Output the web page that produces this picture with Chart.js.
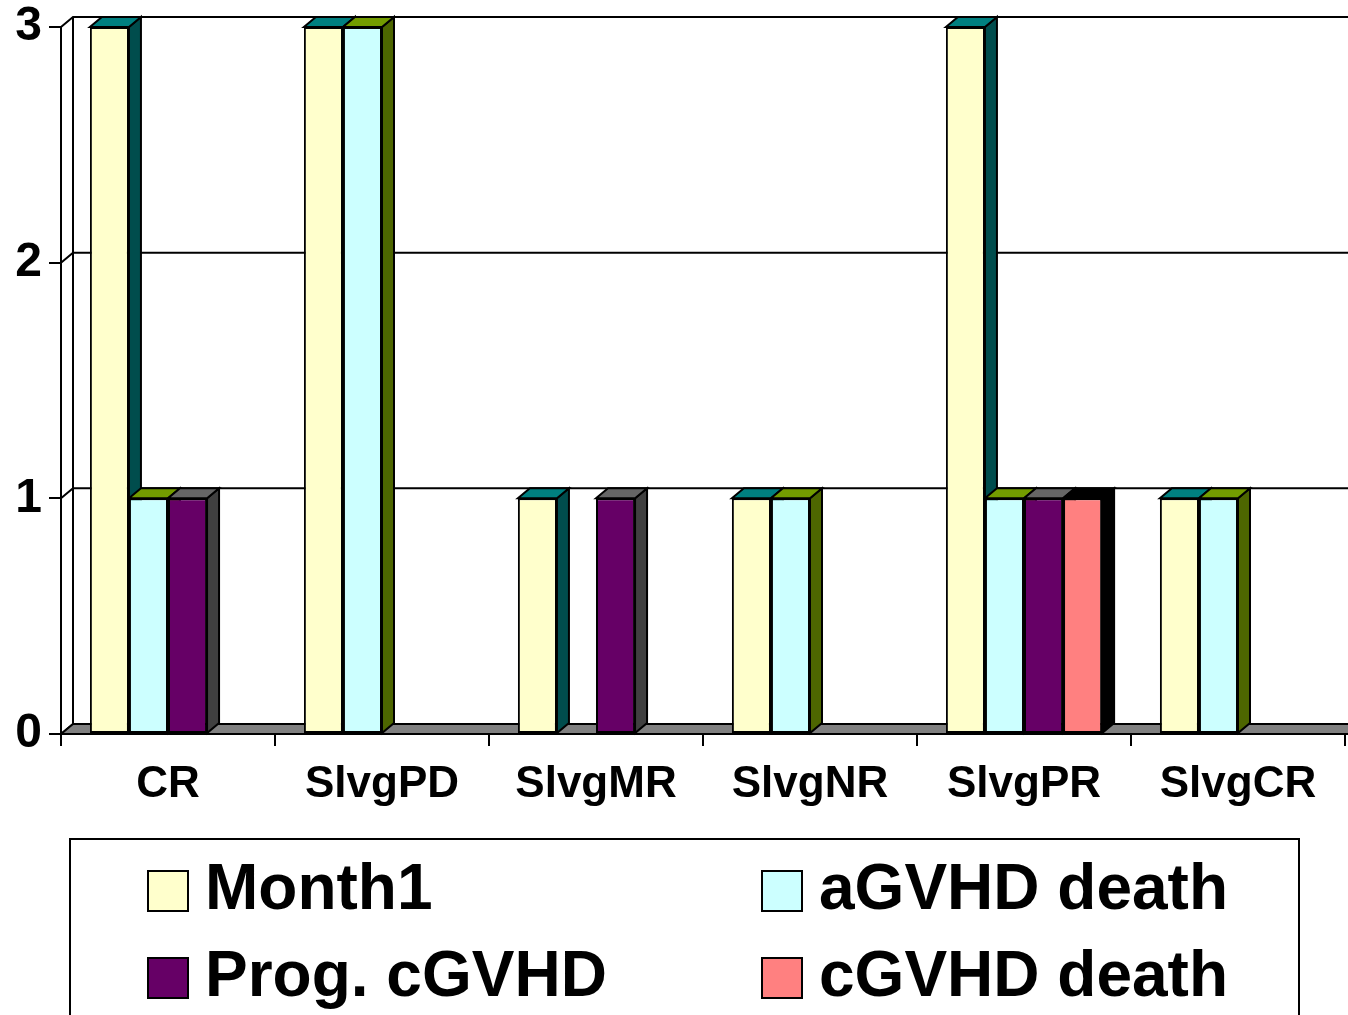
<!DOCTYPE html>
<html>
<head>
<meta charset="utf-8">
<script src="https://cdn.jsdelivr.net/npm/chart.js@4"></script>
<style>
  body { margin:0; background:#fff; }
  #wrap { position:relative; width:1348px; height:1015px; overflow:hidden; }
  #box { position:absolute; left:0; top:0; width:1348px; height:830px; }
  #legend { position:absolute; left:69px; top:838px; width:1227px; height:200px; border:2px solid #000;
            font-family:"Liberation Sans", Arial, sans-serif; font-weight:bold; font-size:64px; }
  .item { position:absolute; height:60px; line-height:60px; white-space:nowrap; }
  .item span.sw { position:absolute; left:0; top:11px; width:38px; height:38px; border:2px solid #000; }
  .item span.tx { position:absolute; left:58px; top:-2px; }
</style>
</head>
<body>
<div id="wrap">
  <div id="box"><canvas id="chart"></canvas></div>
  <div id="legend"></div>
</div>
<script>
const categories = ['CR','SlvgPD','SlvgMR','SlvgNR','SlvgPR','SlvgCR'];
const seriesNames = ['Month1','aGVHD death','Prog. cGVHD','cGVHD death'];
const month1 = [3, 3, 1, 1, 3, 1];
const aGvhdDeath = [1, 3, 0, 1, 1, 1];
const progCGvhd = [1, 0, 1, 0, 1, 0];
const cGvhdDeath = [0, 0, 0, 0, 1, 0];
const yTicks = [0, 1, 2, 3];

const frontColors = ['#FFFFCC','#CCFFFF','#660066','#FF8080'];
const topColors = ['#008080','#739C00','#666666','#000000'];
const sideColors = ['#004D4D','#4D6600','#404040','#000000'];
const dx = 12, dy = 10;

const values = [month1, aGvhdDeath, progCGvhd, cGvhdDeath];

function poly(ctx, pts, fill) {
  ctx.beginPath();
  ctx.moveTo(pts[0][0], pts[0][1]);
  for (let k = 1; k < pts.length; k++) ctx.lineTo(pts[k][0], pts[k][1]);
  ctx.closePath();
  if (fill) { ctx.fillStyle = fill; ctx.fill(); }
  ctx.stroke();
}

// back wall, floor and the depth faces of the bars
const wall3d = {
  id: 'wall3d',
  beforeDatasetsDraw(chart) {
    const {ctx, chartArea: a, scales: {y}} = chart;
    ctx.save();
    ctx.lineWidth = 2;
    ctx.strokeStyle = '#000';
    yTicks.forEach(v => {
      const py = y.getPixelForValue(v);
      ctx.beginPath();
      ctx.moveTo(a.left, py);
      ctx.lineTo(a.left + dx, py - dy);
      ctx.lineTo(a.right + dx + 20, py - dy);
      ctx.stroke();
    });
    ctx.beginPath();
    ctx.moveTo(a.left + dx, y.getPixelForValue(3) - dy);
    ctx.lineTo(a.left + dx, y.getPixelForValue(0) - dy);
    ctx.stroke();
    poly(ctx, [[a.left, a.bottom], [a.left + dx, a.bottom - dy], [a.right + dx + 20, a.bottom - dy], [a.right + 20, a.bottom]], '#808080');
    categories.forEach((c, j) => {
      values.forEach((arr, i) => {
        if (!arr[j]) return;
        const el = chart.getDatasetMeta(i).data[j];
        const x0 = el.x - el.width / 2, x1 = el.x + el.width / 2;
        const top = el.y, base = el.base;
        poly(ctx, [[x1, top], [x1 + dx, top - dy], [x1 + dx, base - dy], [x1, base]], sideColors[i]);
        poly(ctx, [[x0, top], [x0 + dx, top - dy], [x1 + dx, top - dy], [x1, top]], topColors[i]);
      });
    });
    ctx.restore();
  }
};

const ctx = document.getElementById('chart').getContext('2d');
new Chart(ctx, {
  type: 'bar',
  data: {
    labels: categories,
    datasets: values.map((arr, i) => ({
      label: seriesNames[i],
      data: arr,
      backgroundColor: frontColors[i],
      borderColor: '#000',
      borderWidth: c => (c.raw ? 2 : 0),
      borderSkipped: false,
      categoryPercentage: 0.73,
      barPercentage: 1
    }))
  },
  options: {
    responsive: true,
    maintainAspectRatio: false,
    animation: false,
    layout: { padding: { top: 27, right: 3, left: 0, bottom: 0 } },
    plugins: { legend: { display: false }, tooltip: { enabled: false } },
    scales: {
      x: {
        offset: true,
        afterFit: s => { s.height = 96; s.paddingLeft = 0; s.paddingRight = 0; },
        grid: { display: true, drawOnChartArea: false, tickLength: 12, color: '#000', lineWidth: 2 },
        border: { display: false },
        ticks: { color: '#000', padding: 17, font: { family: '"Liberation Sans", Arial, sans-serif', weight: 'bold', size: 44, lineHeight: 1 } }
      },
      y: {
        min: 0, max: 3,
        afterFit: s => { s.width = 61; s.paddingTop = 0; s.paddingBottom = 0; },
        afterBuildTicks: s => { s.ticks = yTicks.map(v => ({ value: v })); },
        grid: { display: true, drawOnChartArea: false, tickLength: 12, color: '#000', lineWidth: 2 },
        border: { display: true, color: '#000', width: 2 },
        ticks: { color: '#000', padding: 7, font: { family: '"Liberation Sans", Arial, sans-serif', weight: 'bold', size: 48, lineHeight: 1 } }
      }
    }
  },
  plugins: [wall3d]
});

// legend, two columns
const legend = document.getElementById('legend');
const spots = [[76, 19], [690, 19], [76, 106], [690, 106]];
seriesNames.forEach((name, i) => {
  const d = document.createElement('div');
  d.className = 'item';
  d.style.left = spots[i][0] + 'px';
  d.style.top = spots[i][1] + 'px';
  d.innerHTML = '<span class="sw" style="background:' + frontColors[i] + '"></span><span class="tx">' + name + '</span>';
  legend.appendChild(d);
});
</script>
</body>
</html>
